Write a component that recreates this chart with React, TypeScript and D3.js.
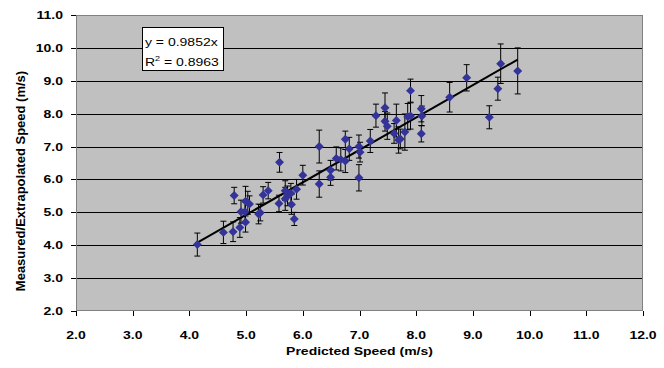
import * as d3 from 'd3';
import React from 'react';

// predicted speed (m/s), measured/extrapolated speed (m/s), error half-width
const predicted = [
  4.14, 4.6, 4.77, 4.79, 4.89, 4.91, 4.98, 4.99, 4.99, 5.03, 5.06, 5.22, 5.25, 5.3, 5.39,
  5.59, 5.58, 5.69, 5.69, 5.73, 5.8, 5.85, 5.79, 5.89, 6.0, 6.29, 6.29, 6.49, 6.49, 6.59,
  6.67, 6.75, 6.75, 6.82, 6.99, 7.01, 6.99, 7.19, 7.29, 7.45, 7.45, 7.49, 7.65, 7.69, 7.61,
  7.8, 7.85, 7.72, 7.9, 7.9, 8.09, 8.1, 8.09, 8.59, 8.89, 9.29, 9.44, 9.49, 9.79,
];
const measured = [
  4.02, 4.39, 4.41, 5.51, 4.54, 5.02, 5.02, 4.7, 5.34, 5.29, 5.25, 4.95, 4.99, 5.53, 5.66,
  6.52, 5.27, 5.66, 5.41, 5.5, 5.24, 4.8, 5.58, 5.7, 6.13, 7.0, 5.86, 6.28, 6.07, 6.64,
  6.61, 6.56, 7.22, 6.93, 7.0, 6.83, 6.05, 7.17, 7.94, 8.18, 7.77, 7.62, 7.79, 7.2, 7.4,
  7.44, 7.91, 7.23, 8.7, 7.93, 8.15, 7.93, 7.39, 8.5, 9.09, 7.89, 8.76, 9.52, 9.3,
];
const errors = [
  0.35, 0.34, 0.3, 0.25, 0.3, 0.35, 0.3, 0.3, 0.45, 0.35, 0.25, 0.3, 0.25, 0.25, 0.25,
  0.3, 0.25, 0.3, 0.35, 0.3, 0.3, 0.2, 0.3, 0.3, 0.3, 0.5, 0.4, 0.3, 0.25, 0.35,
  0.35, 0.35, 0.25, 0.35, 0.35, 0.3, 0.4, 0.35, 0.35, 0.45, 0.3, 0.4, 0.5, 0.4, 0.3,
  0.55, 0.4, 0.3, 0.35, 0.4, 0.4, 0.3, 0.25, 0.45, 0.4, 0.35, 0.35, 0.6, 0.7,
];
const slope = 0.9852;
const rSquared = 0.8963;
const xTicks = [2, 3, 4, 5, 6, 7, 8, 9, 10, 11, 12];
const yTicks = [2, 3, 4, 5, 6, 7, 8, 9, 10, 11];

const margin = { top: 15, right: 21, bottom: 57, left: 76 };
const W = 664;
const H = 368;

// square diamond like the Excel marker
const squareDiamond = {
  draw(context: any, size: number) {
    const r = Math.sqrt(size / 2);
    context.moveTo(0, -r);
    context.lineTo(r, 0);
    context.lineTo(0, r);
    context.lineTo(-r, 0);
    context.closePath();
  },
};

const App = () => {
  const x = d3.scaleLinear().domain([2, 12]).range([margin.left, W - margin.right]);
  const y = d3.scaleLinear().domain([2, 11]).range([H - margin.bottom, margin.top]);
  const font = '"Liberation Sans", Arial, sans-serif';
  const sy = 0.8; // text in the original is squashed vertically

  const xmin = d3.min(predicted) as number;
  const xmax = d3.max(predicted) as number;
  const trend = d3.line<number>()
    .x((d) => x(d))
    .y((d) => y(d * slope));

  const diamond = d3.symbol().type(squareDiamond as any).size(40)();

  return (
    <svg width={W} height={H} style={{ position: 'absolute', left: 0, top: 0 }} fontFamily={font}>
      <rect x={0} y={0} width={W} height={H} fill="#fff" />
      {/* plot area */}
      <rect x={x(2)} y={y(11)} width={x(12) - x(2)} height={y(2) - y(11)} fill="#c0c0c0" />
      {yTicks.filter((t) => t > 2 && t < 11).map((t) => (
        <line key={'g' + t} x1={x(2)} x2={x(12)} y1={Math.round(y(t)) + 0.5} y2={Math.round(y(t)) + 0.5} stroke="#000" strokeWidth={1} />
      ))}
      <rect x={x(2) + 0.5} y={y(11) + 0.5} width={x(12) - x(2) - 1} height={y(2) - y(11) - 1} fill="none" stroke="#808080" strokeWidth={1} />

      {/* y axis */}
      {yTicks.map((t) => (
        <g key={'y' + t}>
          <line x1={x(2) - 5} x2={x(2)} y1={Math.round(y(t)) + 0.5} y2={Math.round(y(t)) + 0.5} stroke="#000" />
          <text transform={`translate(${x(2) - 13},${y(t) + 4}) scale(1,${sy})`} textAnchor="end" fontSize={14} fontWeight="bold">{t.toFixed(1)}</text>
        </g>
      ))}
      {/* x axis */}
      {xTicks.map((t) => (
        <g key={'x' + t}>
          <line x1={Math.round(x(t)) + 0.5} x2={Math.round(x(t)) + 0.5} y1={y(2)} y2={y(2) + 5} stroke="#000" />
          <text transform={`translate(${x(t)},${y(2) + 28}) scale(1,${sy})`} textAnchor="middle" fontSize={14} fontWeight="bold">{t.toFixed(1)}</text>
        </g>
      ))}
      <text transform={`translate(${(x(2) + x(12)) / 2},${H - 13}) scale(1,${sy})`} textAnchor="middle" fontSize={14} fontWeight="bold">Predicted Speed (m/s)</text>
      <text transform={`translate(25,${(y(2) + y(11)) / 2 + 18}) rotate(-90)`} textAnchor="middle" fontSize={13} fontWeight="bold">Measured/Extrapolated Speed (m/s)</text>

      {/* error bars */}
      {predicted.map((p, i) => (
        <g key={'e' + i} stroke="#000" strokeWidth={1}>
          <line x1={x(p)} x2={x(p)} y1={y(measured[i] - errors[i])} y2={y(measured[i] + errors[i])} />
          <line x1={x(p) - 3} x2={x(p) + 3} y1={y(measured[i] - errors[i])} y2={y(measured[i] - errors[i])} />
          <line x1={x(p) - 3} x2={x(p) + 3} y1={y(measured[i] + errors[i])} y2={y(measured[i] + errors[i])} />
        </g>
      ))}
      {/* trend line */}
      <path d={trend([xmin, xmax]) as string} stroke="#000" strokeWidth={2} fill="none" />
      {/* points */}
      {predicted.map((p, i) => (
        <path key={'p' + i} d={diamond as string} transform={`translate(${x(p)},${y(measured[i])})`} fill="#333399" />
      ))}

      {/* equation box */}
      <rect x={142.5} y={27.5} width={81} height={43} fill="#fff" stroke="#000" strokeWidth={1} />
      <text transform={`translate(145,46) scale(1,${sy})`} fontSize={14}>y = {slope}x</text>
      <text transform={`translate(145,66) scale(1,${sy})`} fontSize={14}>
        R<tspan dy={-6} fontSize={9}>2</tspan><tspan dy={6}> = {rSquared}</tspan>
      </text>
    </svg>
  );
};

export default App;
